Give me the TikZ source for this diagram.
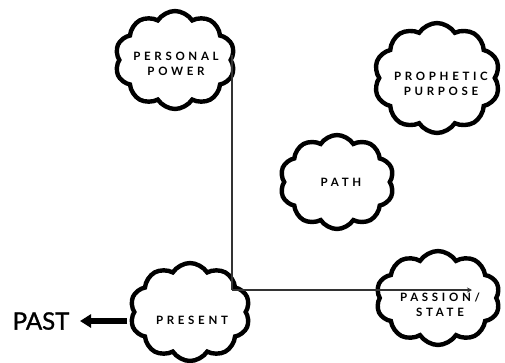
\documentclass[tikz,border=0pt]{standalone}
\usepackage{fontspec}
\setmainfont{Lato}
\newfontfamily\spaced[LetterSpace=32]{Lato Bold}
\newfontfamily\pastfont[FakeBold=1.2]{Lato}
\usetikzlibrary{shapes.symbols,arrows.meta}
\tikzset{
  puff/.style={cloud, cloud puffs=10, cloud puff arc=115, cloud ignores aspect,
    draw=black, line width=4.4pt, fill=white, inner sep=0pt},
  lbl/.style={font=\spaced\fontsize{11.5}{15.5}\selectfont, align=center, inner sep=0pt},
  axis/.style={draw=black!80, line width=2.2pt},
  pastarrow/.style={line width=5.5pt, -{Triangle[length=11pt,width=13pt]}},
}
\begin{document}
\begin{tikzpicture}[x=1pt,y=-1pt]
\useasboundingbox (0,0) rectangle (505,362);
\node[puff, minimum width=120pt, minimum height=98pt] (pp) at (175,60) {};
\node[puff, minimum width=126pt, minimum height=110pt] (pr) at (437,78) {};
\node[puff, minimum width=114pt, minimum height=94pt] (pa) at (337,182) {};
\node[puff, minimum width=120pt, minimum height=98pt] (ps) at (190,312) {};
\node[puff, minimum width=124pt, minimum height=94pt] (st) at (438,298) {};
\node[lbl] (ppt) at (176,64) {PERSONAL\\POWER};
\node[lbl] (prt) at (441,84) {PROPHETIC\\PURPOSE};
\node[lbl] (pat) at (341,182) {PATH};
\node[lbl] (pst) at (192,320) {PRESENT};
\node[lbl] (stt) at (440,305) {PASSION/\\STATE};
\coordinate (top) at (232,55);
\coordinate (corner) at (232,290);
\coordinate (end) at (472,290);
\draw[axis] (top) -- (corner);
\draw[axis, -{Stealth[length=5pt,width=5pt]}] (corner) -- (end);
\node[font=\pastfont\fontsize{24}{26}\selectfont, inner sep=0pt] (past) at (41,321) {PAST};
\coordinate (pstart) at (127,321);
\coordinate (ptip) at (80,321);
\draw[pastarrow] (pstart) -- (ptip);
\end{tikzpicture}
\end{document}
